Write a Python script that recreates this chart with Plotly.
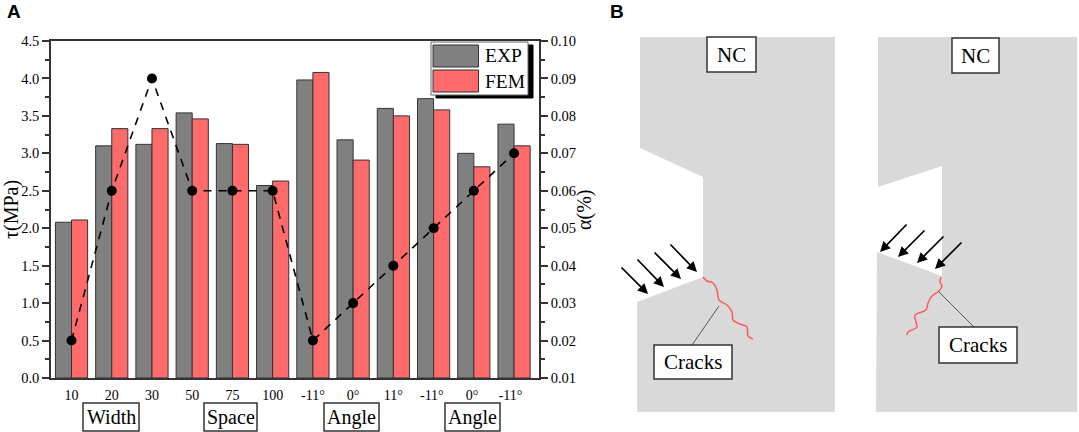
import plotly.graph_objects as go

categories = ["10", "20", "30", "50", "75", "100", "-11°", "0°", "11°", "-11° ", "0° ", "-11°  "]
exp_values = [2.08, 3.10, 3.12, 3.54, 3.13, 2.57, 3.98, 3.18, 3.60, 3.73, 3.00, 3.39]
fem_values = [2.11, 3.33, 3.33, 3.46, 3.12, 2.63, 4.08, 2.91, 3.50, 3.58, 2.82, 3.10]
alpha_values = [0.02, 0.06, 0.09, 0.06, 0.06, 0.06, 0.02, 0.03, 0.04, 0.05, 0.06, 0.07]
group_labels = [("Width", 83, 139), ("Space", 204, 257), ("Angle", 324, 379), ("Angle", 445, 500)]

# schematic geometry (pixel canvas)
left_block_x = [640, 835, 835, 637, 637, 703, 703, 640, 640]
left_block_y = [37, 37, 412, 412, 302, 277, 177, 148, 37]
right_block_x = [878, 1077, 1077, 876, 877, 942, 942, 878, 878]
right_block_y = [37, 37, 412, 412, 252, 276, 166, 187, 37]
left_arrows = [(669, 243, 697, 272), (653, 251, 681, 279), (636, 258, 664, 287), (620, 266, 648, 294)]
right_arrows = [(908, 223, 880, 252), (926, 229, 898, 257), (945, 235, 917, 263), (963, 241, 935, 269)]
left_crack_x = [703, 707, 713, 717, 719, 727, 732, 733, 740, 747, 748, 753]
left_crack_y = [277, 281, 283, 290, 300, 305, 312, 320, 324, 327, 336, 339]
right_crack_x = [941, 940, 942, 939, 932, 928, 926, 915, 916, 917, 908, 907]
right_crack_y = [277, 282, 286, 291, 296, 303, 310, 315, 322, 327, 332, 335]
leaders = [(719, 306, 692, 345), (939, 292, 974, 327)]
text_boxes = [("NC", 707, 756, 37, 72), ("NC", 952, 999, 38, 73),
              ("Cracks", 654, 732, 345, 379), ("Cracks", 939, 1017, 327, 363)]
legend_box = (431, 528, 42, 95)

W, H = 1079, 432
AX_L, AX_R, AX_T, AX_B = 51, 539, 41, 378
SERIF = "Liberation Serif"
INK = "#333333"
GRAY = "#808080"
RED = "#FF6B6B"

fig = go.Figure()
fig.add_trace(go.Bar(x=categories, y=exp_values, name="EXP", marker=dict(color=GRAY, line=dict(color=INK, width=1)), showlegend=False))
fig.add_trace(go.Bar(x=categories, y=fem_values, name="FEM", marker=dict(color=RED, line=dict(color=INK, width=1)), showlegend=False))
fig.add_trace(go.Scatter(x=categories, y=alpha_values, yaxis="y2", mode="lines+markers",
                         line=dict(color="black", width=1.6, dash="8px,7px"),
                         marker=dict(color="black", size=10), showlegend=False))

# pixel canvas traces for panel B
for xs, ys in [(left_block_x, left_block_y), (right_block_x, right_block_y)]:
    fig.add_trace(go.Scatter(x=xs, y=ys, xaxis="x3", yaxis="y3", mode="lines", fill="toself",
                             fillcolor="#D9D9D9", line=dict(width=0), showlegend=False, hoverinfo="skip"))
for xs, ys in [(left_crack_x, left_crack_y), (right_crack_x, right_crack_y)]:
    fig.add_trace(go.Scatter(x=xs, y=ys, xaxis="x3", yaxis="y3", mode="lines",
                             line=dict(color="#FF5A5A", width=1.5, shape="spline"), showlegend=False, hoverinfo="skip"))

shapes = []
annotations = []


def rect(x0, x1, y0, y1, fill, line_color=INK, lw=1.5):
    shapes.append(dict(type="rect", xref="x3", yref="y3", x0=x0, x1=x1, y0=y0, y1=y1,
                       fillcolor=fill, line=dict(color=line_color, width=lw)))


def label(text, x, y, size, font=SERIF, weight=None, **kw):
    f = dict(family=font, size=size, color="black")
    if weight:
        f["weight"] = weight
    annotations.append(dict(text=text, x=x, y=y, xref="x3", yref="y3", showarrow=False, font=f, **kw))


for x0, y0, x1, y1 in leaders:
    shapes.append(dict(type="line", xref="x3", yref="y3", x0=x0, y0=y0, x1=x1, y1=y1,
                       line=dict(color="#555555", width=1)))
for text, x0, x1, y0, y1 in text_boxes:
    rect(x0, x1, y0, y1, "white")
    label(text, (x0 + x1) / 2, (y0 + y1) / 2, 21)
for text, x0, x1 in group_labels:
    rect(x0, x1, 403, 431, "white")
    label(text, (x0 + x1) / 2, 417, 20)
for x0, y0, x1, y1 in left_arrows + right_arrows:
    annotations.append(dict(x=x1, y=y1, ax=x0, ay=y0, xref="x3", yref="y3", axref="x3", ayref="y3",
                            text="", showarrow=True, arrowhead=2, arrowsize=1.2, arrowwidth=1.7, arrowcolor="black"))

# legend block with its offset shadow
lx0, lx1, ly0, ly1 = legend_box
rect(lx0 + 5, lx1 + 5, ly0 + 3, ly1 + 3, "black", "black", 1)
rect(lx0, lx1, ly0, ly1, "white", "#666666", 1)
rect(433, 478.5, 45, 67, GRAY, INK, 1)
rect(433, 478.5, 70, 92, RED, INK, 1)
label("EXP", 483, 55, 19.5, xanchor="left")
label("FEM", 483, 81, 19.5, xanchor="left")

label("A", 14, 11, 19, font="Liberation Sans", weight="bold")
label("B", 617, 11, 19, font="Liberation Sans", weight="bold")
label("τ(MPa)", 11, 210, 20, textangle=-90)
label("α(%)", 584, 210, 20, textangle=-90)

axis_style = dict(showline=True, linecolor=INK, linewidth=1.5, ticks="outside", ticklen=7, tickwidth=1.5,
                  tickcolor=INK, tickfont=dict(family=SERIF, size=14.5, color="black"), showgrid=False, zeroline=False)

fig.update_layout(
    width=W, height=H, autosize=False,
    margin=dict(l=0, r=0, t=0, b=0, pad=0, autoexpand=False),
    paper_bgcolor="white", plot_bgcolor="rgba(0,0,0,0)",
    barmode="group", bargap=0.2, bargroupgap=0,
    xaxis=dict(domain=[AX_L / W, AX_R / W], range=[-0.51, 11.62], type="category", showline=True, linecolor=INK,
               linewidth=1.5, mirror=True, ticks="", ticklen=0, showgrid=False, zeroline=False, ticklabelstandoff=3,
               tickfont=dict(family=SERIF, size=14, color="black"), tickangle=0, anchor="y"),
    yaxis=dict(domain=[1 - AX_B / H, 1 - AX_T / H], range=[0, 4.5], tickmode="linear", tick0=0, dtick=0.5,
               tickformat=".1f", minor=dict(dtick=0.25, ticks="outside", ticklen=4, tickwidth=1.5, tickcolor=INK),
               **axis_style),
    yaxis2=dict(domain=[1 - AX_B / H, 1 - AX_T / H], range=[0.01, 0.10], overlaying="y", side="right", anchor="x",
                tickmode="linear", tick0=0.01, dtick=0.01, tickformat=".2f",
                minor=dict(dtick=0.005, ticks="outside", ticklen=4, tickwidth=1.5, tickcolor=INK),
                **axis_style),
    xaxis3=dict(domain=[0, 1], range=[0, W], visible=False, fixedrange=True, anchor="y3"),
    yaxis3=dict(domain=[0, 1], range=[H, 0], visible=False, fixedrange=True, anchor="x3"),
    shapes=shapes, annotations=annotations,
)

fig.write_html("out.html", config={"displayModeBar": False}, post_script="document.body.style.margin='0';")
